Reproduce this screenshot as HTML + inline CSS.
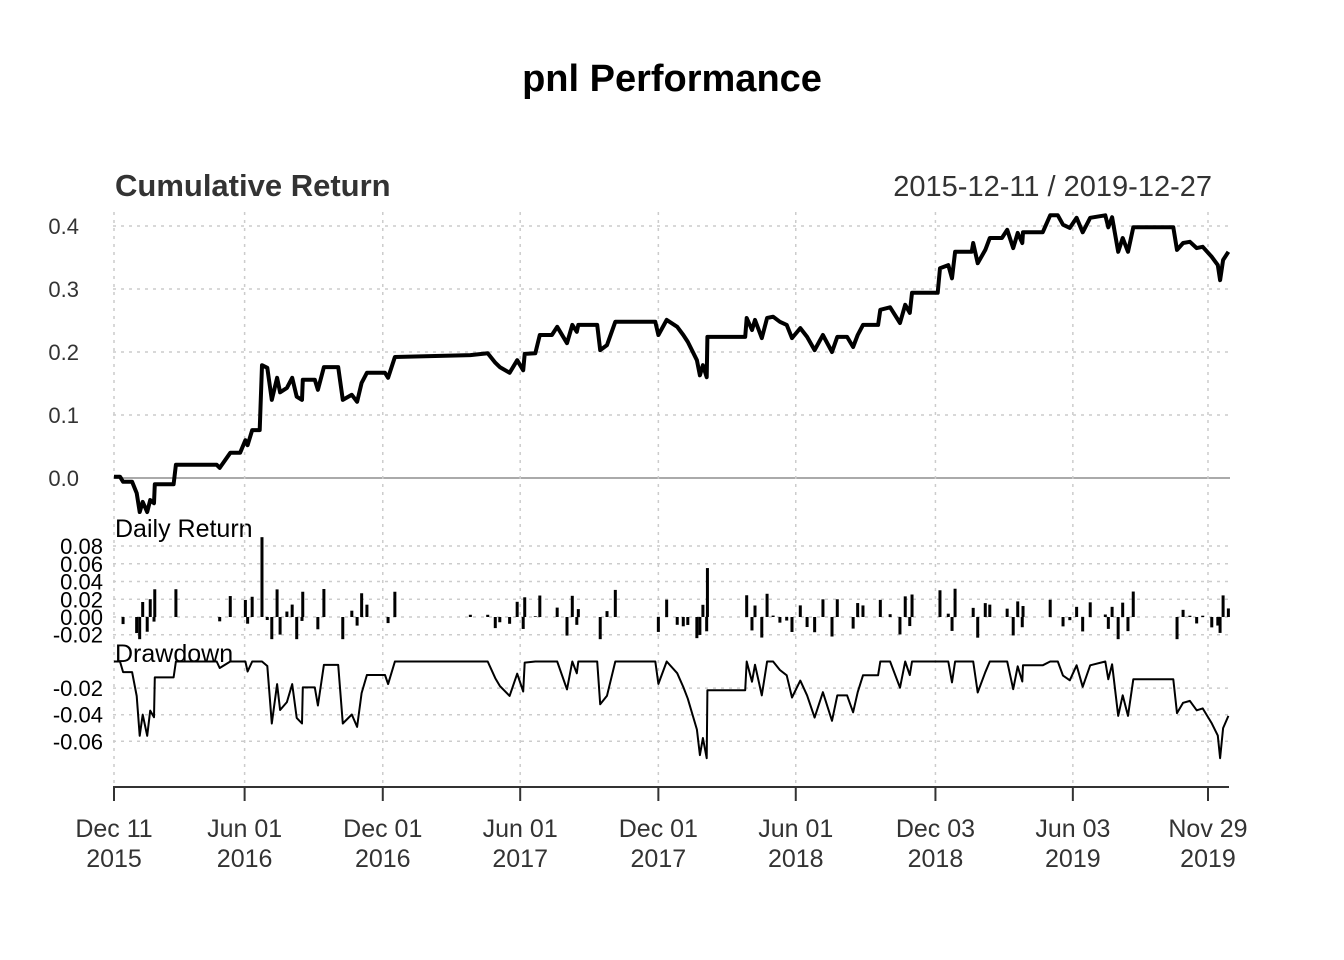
<!DOCTYPE html>
<html><head><meta charset="utf-8"><style>
html,body{margin:0;padding:0;background:#fff;}
svg{display:block;font-family:"Liberation Sans",sans-serif;}
</style></head><body>
<svg id="chart" width="1344" height="960" viewBox="0 0 1344 960">
<text x="672" y="91" text-anchor="middle" font-size="38" font-weight="bold">pnl Performance</text>
<text x="115" y="196" font-size="31" font-weight="bold" fill="#333">Cumulative Return</text>
<text x="1212" y="196" text-anchor="end" font-size="29" fill="#333">2015-12-11 / 2019-12-27</text>
<text x="115" y="537" font-size="25">Daily Return</text>
<text x="115" y="662" font-size="25">Drawdown</text>
<g id="grid"></g><g id="marks"></g><g id="axes"></g>
</svg>
<script>
const cumDays=[0,8,12,24,30,34,38,44,48,53,54,79,82,136,140,154,167,174,177,183,193,196,203,209,216,220,229,236,242,249,250,266,270,278,297,303,315,322,328,335,359,363,372,472,495,505,511,524,534,542,544,558,564,580,587,600,607,613,615,640,644,653,664,717,721,732,746,754,760,772,776,780,785,786,836,838,845,849,858,865,873,882,891,898,909,918,928,939,951,958,971,979,985,992,1012,1015,1028,1041,1048,1054,1057,1091,1094,1105,1110,1114,1136,1138,1144,1154,1160,1176,1183,1191,1197,1203,1204,1230,1240,1250,1257,1266,1275,1283,1293,1313,1317,1322,1330,1336,1343,1350,1403,1408,1416,1425,1434,1442,1454,1462,1465,1469,1476];
const cumValues=[0.002,0.002,-0.006,-0.006,-0.024,-0.054,-0.038,-0.054,-0.035,-0.040,-0.010,-0.010,0.021,0.021,0.016,0.040,0.040,0.060,0.052,0.076,0.076,0.179,0.175,0.124,0.159,0.136,0.143,0.159,0.129,0.124,0.156,0.156,0.140,0.176,0.176,0.124,0.132,0.121,0.151,0.167,0.167,0.159,0.192,0.195,0.198,0.183,0.176,0.167,0.187,0.171,0.197,0.198,0.227,0.227,0.240,0.214,0.243,0.232,0.243,0.243,0.203,0.211,0.248,0.248,0.227,0.251,0.240,0.227,0.216,0.187,0.163,0.179,0.160,0.224,0.224,0.254,0.235,0.251,0.222,0.254,0.256,0.248,0.243,0.222,0.238,0.224,0.203,0.227,0.200,0.224,0.224,0.208,0.227,0.243,0.243,0.267,0.271,0.246,0.275,0.262,0.294,0.294,0.333,0.338,0.317,0.359,0.359,0.373,0.341,0.362,0.381,0.381,0.394,0.365,0.389,0.373,0.390,0.390,0.417,0.417,0.402,0.397,0.413,0.390,0.413,0.417,0.398,0.414,0.359,0.381,0.359,0.398,0.398,0.362,0.373,0.375,0.365,0.367,0.351,0.338,0.314,0.346,0.359];
const xTickDates=["2015-12-11","2016-06-01","2016-12-01","2017-06-01","2017-12-01","2018-06-01","2018-12-03","2019-06-03","2019-11-29"];
const xTickLine1=["Dec 11","Jun 01","Dec 01","Jun 01","Dec 01","Jun 01","Dec 03","Jun 03","Nov 29"];
const xTickLine2=["2015","2016","2016","2017","2017","2018","2018","2019","2019"];
const cumTicks=[0.4,0.3,0.2,0.1,0.0];
const retTicks=[0.08,0.06,0.04,0.02,0.00,-0.02];
const ddTicks=[-0.02,-0.04,-0.06];

const NS="http://www.w3.org/2000/svg";
const X=d=>114+d*0.755;
const yCum=v=>478-v*630;
const yRet=v=>617-v*887;
const yDDf=v=>661.5-v*1330;
const dayOf=s=>Math.round((new Date(s+"T00:00:00Z")-new Date("2015-12-11T00:00:00Z"))/86400000);
function mk(tag,attrs,parent){const e=document.createElementNS(NS,tag);for(const k in attrs)e.setAttribute(k,attrs[k]);parent.appendChild(e);return e;}
const grid=document.getElementById('grid'),marks=document.getElementById('marks'),axes=document.getElementById('axes');

cumTicks.forEach(t=>{
  const l=mk('line',{x1:113,x2:1230,y1:yCum(t),y2:yCum(t),stroke:t===0?'#aaa':'#ccc','stroke-width':t===0?2:1.5,'stroke-dasharray':t===0?'none':'3,5'},grid);
  
  
  const tx=mk('text',{x:79,y:yCum(t)+8,'text-anchor':'end','font-size':22,fill:'#333'},axes);
  tx.textContent=t.toFixed(1);
  
  
});
retTicks.forEach(t=>{
  const l=mk('line',{x1:113,x2:1230,y1:yRet(t),y2:yRet(t),stroke:'#ccc','stroke-width':1.5,'stroke-dasharray':'3,5'},grid);
  
  
  const tx=mk('text',{x:103,y:yRet(t)+8,'text-anchor':'end','font-size':22,fill:'#000'},axes);
  tx.textContent=t.toFixed(2);
  
  
});
ddTicks.forEach(t=>{
  const l=mk('line',{x1:113,x2:1230,y1:yDDf(t),y2:yDDf(t),stroke:'#ccc','stroke-width':1.5,'stroke-dasharray':'3,5'},grid);
  
  
  const tx=mk('text',{x:103,y:yDDf(t)+8,'text-anchor':'end','font-size':22,fill:'#000'},axes);
  tx.textContent=t.toFixed(2);
  
  
});
const ax=mk('line',{x1:113,x2:1229,y1:787,y2:787,stroke:'#333','stroke-width':2},axes);


xTickDates.forEach((s,i)=>{
  const x=X(dayOf(s));
  const g=mk('line',{x1:x,x2:x,y1:212,y2:785,stroke:'#ccc','stroke-width':1.5,'stroke-dasharray':'3,5'},grid);
  
  
  const tk=mk('line',{x1:x,x2:x,y1:787,y2:801,stroke:'#333','stroke-width':2},axes);
  
  
  const t1=mk('text',{x:x,y:837,'text-anchor':'middle','font-size':25,fill:'#333'},axes);
  t1.textContent=xTickLine1[i];
  
  
  const t2=mk('text',{x:x,y:867,'text-anchor':'middle','font-size':25,fill:'#333'},axes);
  t2.textContent=xTickLine2[i];
  
  
});
let p=cumDays.map((d,i)=>(i?'L':'M')+X(d).toFixed(1)+','+yCum(cumValues[i]).toFixed(1)).join('');
const cl=mk('path',{d:p,fill:'none',stroke:'#000','stroke-width':4,'stroke-linejoin':'round'},marks);


for(let i=1;i<cumDays.length;i++){
  const r=(1+cumValues[i])/(1+cumValues[i-1])-1;
  if(Math.abs(r)<0.0005)continue;
  const rc=Math.max(-0.025,Math.min(0.09,r));
  const x=X(cumDays[i]);
  const b=mk('rect',{x:x-1.5,width:3,y:Math.min(yRet(0),yRet(rc)),height:Math.abs(yRet(rc)-yRet(0)),fill:'#000'},marks);
  
  
}
let peak=-1,dp='';
cumDays.forEach((d,i)=>{peak=Math.max(peak,cumValues[i]);const dd=(1+cumValues[i])/(1+peak)-1;dp+=(i?'L':'M')+X(d).toFixed(1)+','+yDDf(dd).toFixed(1);});
const dl=mk('path',{d:dp,fill:'none',stroke:'#000','stroke-width':2,'stroke-linejoin':'round'},marks);


</script>
</body></html>
